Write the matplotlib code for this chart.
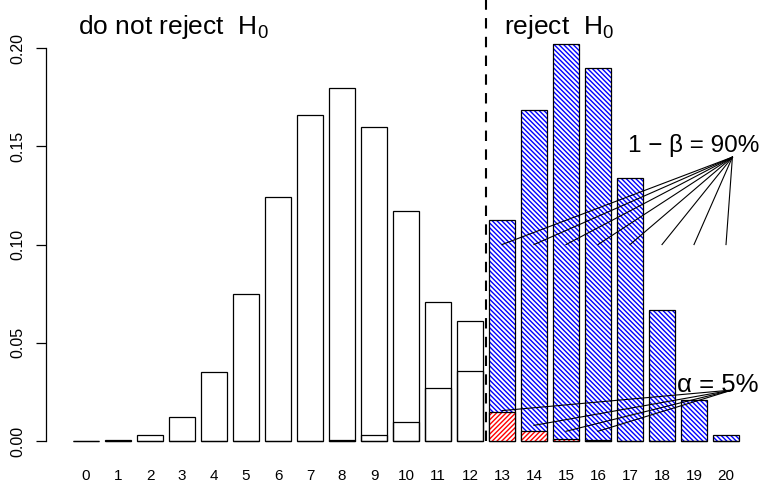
import matplotlib
matplotlib.use('Agg')
import matplotlib.pyplot as plt

plt.rcParams['font.family'] = ['Liberation Sans', 'DejaVu Sans']
plt.rcParams['mathtext.fontset'] = 'custom'
plt.rcParams['mathtext.rm'] = 'Liberation Sans'
plt.rcParams['mathtext.it'] = 'Liberation Sans:italic'
plt.rcParams['hatch.linewidth'] = 1.0

# values
k = list(range(21))
h0 = [0.0000, 0.0005, 0.0031, 0.0123, 0.0350, 0.0746, 0.1244, 0.1659, 0.1797,
      0.1597, 0.1171, 0.0710, 0.0355, 0.0146, 0.0049, 0.0013, 0.0003, 0.00004,
      0.0, 0.0, 0.0]
h1 = [0.0, 0.0, 0.0, 0.0, 0.0, 0.0, 0.0, 0.0002, 0.0008, 0.0030, 0.0099, 0.0271,
      0.0609, 0.1124, 0.1686, 0.2023, 0.1897, 0.1339, 0.0669, 0.0211, 0.0032]
crit = 13
yticks = [0.00, 0.05, 0.10, 0.15, 0.20]
beta_ends = [0.10] * 8
alpha_ends = [0.0155, 0.008, 0.005, 0.005]

fig = plt.figure(figsize=(7.63, 4.82), dpi=100)
ax = fig.add_axes([46/763, 1 - 457/482, 1 - 46/763, (457 - 27.6)/482])
w = 0.83

acc = [i for i in k if i < crit]
rej = [i for i in k if i >= crit]

# acceptance region: both distributions as white bars
ax.bar(acc, [h0[i] for i in acc], width=w, color='white', edgecolor='black', linewidth=0.9)
ax.bar(acc, [h1[i] for i in acc], width=w, color='none', edgecolor='black', linewidth=0.9)

# rejection region: power (blue) and alpha (red)
ax.bar(rej, [h1[i] for i in rej], width=w, color='white', edgecolor='blue',
       hatch='\\' * 7, linewidth=0)
ax.bar(rej, [h1[i] for i in rej], width=w, color='none', edgecolor='black', linewidth=0.9)
ax.bar(rej, [h0[i] for i in rej], width=w, color='white', edgecolor='red',
       hatch='/' * 7, linewidth=0)
ax.bar(rej, [h0[i] for i in rej], width=w, color='none', edgecolor='black', linewidth=0.9)

ax.plot([crit - 0.5, crit - 0.5], [0, 0.225], color='black', lw=1.5,
        dashes=(5, 4), clip_on=False)

for i, y in zip(rej, beta_ends):
    ax.plot([i, 20.2], [y, 0.1445], color='black', lw=0.8)
for i, y in zip(rej, alpha_ends):
    ax.plot([i, 20.2], [y, 0.026], color='black', lw=0.8)

ax.text(2.72, 0.2107, r'do not reject  $\mathregular{H_0}$', fontsize=19,
        ha='center', va='center')
ax.text(14.78, 0.2107, r'reject  $\mathregular{H_0}$', fontsize=19,
        ha='center', va='center')
ax.text(19.0, 0.1506, '1 − β = 90%', fontsize=17.5, ha='center', va='center')
ax.text(19.75, 0.0285, 'α = 5%', fontsize=18.5, ha='center', va='center')

ax.set_xlim(-1.25, 21.156)
ax.set_ylim(-0.0081, 0.2104)
for s in ['top', 'right', 'bottom']:
    ax.spines[s].set_visible(False)
ax.spines['left'].set_bounds(0, 0.20)
ax.spines['left'].set_linewidth(0.9)
ax.set_yticks(yticks)
ax.set_yticklabels(['%.2f' % v for v in yticks], rotation=90, va='center', fontsize=11.5)
ax.tick_params(axis='y', length=7, width=0.9, pad=8)
ax.set_xticks(k)
ax.set_xticklabels([str(i) for i in k], fontsize=11)
ax.tick_params(axis='x', length=0, pad=9)
ax.patch.set_visible(False)

fig.savefig('out.png', dpi=100)
